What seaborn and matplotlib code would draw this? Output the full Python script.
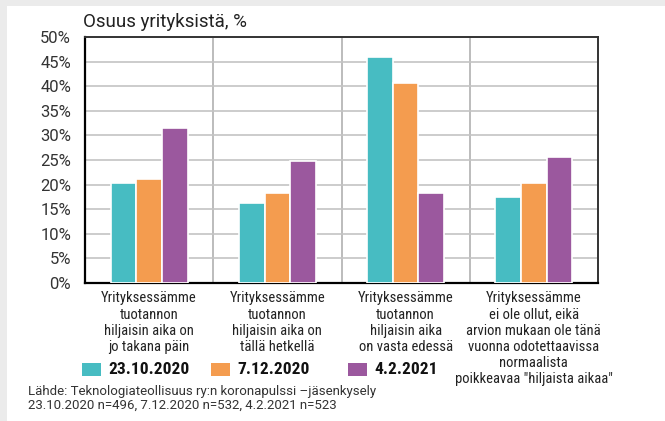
import pandas as pd
import matplotlib
matplotlib.use("Agg")
import matplotlib.pyplot as plt
from matplotlib.patches import Rectangle
import seaborn as sns

# Chart data
categories = [
    "Yrityksessämme\ntuotannon\nhiljaisin aika on\njo takana päin",
    "Yrityksessämme\ntuotannon\nhiljaisin aika on\ntällä hetkellä",
    "Yrityksessämme\ntuotannon\nhiljaisin aika\non vasta edessä",
    "Yrityksessämme\nei ole ollut, eikä\narvion mukaan ole tänä\nvuonna odotettaavissa\nnormaalista\npoikkeavaa \"hiljaista aikaa\"",
]
surveys = ["23.10.2020", "7.12.2020", "4.2.2021"]
share_oct = [20.4, 16.2, 45.9, 17.5]
share_dec = [21.1, 18.2, 40.6, 20.3]
share_feb = [31.6, 24.7, 18.2, 25.6]
yticks = [0, 5, 10, 15, 20, 25, 30, 35, 40, 45, 50]
colors = ["#47bcc2", "#f49c4f", "#9b589e"]

# Long format for seaborn
rows = []
for survey, vals in zip(surveys, [share_oct, share_dec, share_feb]):
    for cat, v in zip(categories, vals):
        rows.append({"kategoria": cat, "kysely": survey, "osuus": v})
df = pd.DataFrame(rows)

sns.set_style("white")
narrow = ["Roboto Condensed", "Liberation Sans Narrow", "Roboto", "DejaVu Sans"]
plt.rcParams["font.family"] = ["Roboto", "DejaVu Sans"]

fig = plt.figure(figsize=(6.65, 4.21), dpi=100)
fig.patch.set_facecolor("#ebebeb")
# white panel
fig.patches.append(Rectangle((7 / 665, 0), 1, 1 - 6 / 421, transform=fig.transFigure,
                             facecolor="white", edgecolor="none", zorder=-5))

ax = fig.add_axes([85 / 665, 1 - 283 / 421, 513 / 665, 246 / 421])
ax.set_facecolor("white")
sns.barplot(data=df, x="kategoria", y="osuus", hue="kysely", hue_order=surveys,
            palette=colors, width=0.6, edgecolor="white", linewidth=1.2,
            saturation=1, legend=False, ax=ax, zorder=3)

ax.set_ylim(0, 50)
ax.set_xlim(-0.5, 3.5)
ax.set_yticks(yticks)
ax.set_yticklabels([f"{t}%" for t in yticks], fontsize=12, color="#333333")
ax.yaxis.grid(True, color="#c4c4c4", linewidth=1.2, zorder=0)
for xv in [0.5, 1.5, 2.5]:
    ax.axvline(xv, color="#b0b0b0", linewidth=1.2, zorder=0)
ax.set_axisbelow(True)

ax.set_xticks(range(len(categories)))
ax.set_xticklabels(categories, fontsize=10.5, family=narrow, fontstretch="condensed",
                   color="#222222", linespacing=1.2, va="top")
ax.tick_params(axis="both", length=0, pad=6)
ax.tick_params(axis="y", pad=10)
ax.set_xlabel("")
ax.set_ylabel("")

for side in ["left", "bottom"]:
    ax.spines[side].set_color("black")
    ax.spines[side].set_linewidth(1.6)
for side in ["top", "right"]:
    ax.spines[side].set_color("#333333")
    ax.spines[side].set_linewidth(1.4)

fig.text(83 / 665, 1 - 22 / 421, "Osuus yrityksistä, %", fontsize=13.5,
         color="#222222", va="center", ha="left")

# legend
leg_x = [82, 211, 348]
for x0, c, lab in zip(leg_x, colors, surveys):
    fig.patches.append(Rectangle((x0 / 665, 1 - 376 / 421), 19 / 665, 13 / 421,
                                 transform=fig.transFigure, facecolor=c,
                                 edgecolor="none"))
    fig.text((x0 + 26) / 665, 1 - 370 / 421, lab, fontsize=12.5, fontweight="bold",
             family=narrow, fontstretch="condensed", color="#111111",
             va="center", ha="left")

fig.text(28 / 665, 1 - 391 / 421,
         "Lähde: Teknologiateollisuus ry:n koronapulssi –jäsenkysely",
         fontsize=9.5, color="#333333", va="center", ha="left")
fig.text(28 / 665, 1 - 405 / 421,
         "23.10.2020 n=496, 7.12.2020 n=532, 4.2.2021 n=523",
         fontsize=9.5, color="#333333", va="center", ha="left")

fig.savefig("out.png", dpi=100, facecolor=fig.get_facecolor())
